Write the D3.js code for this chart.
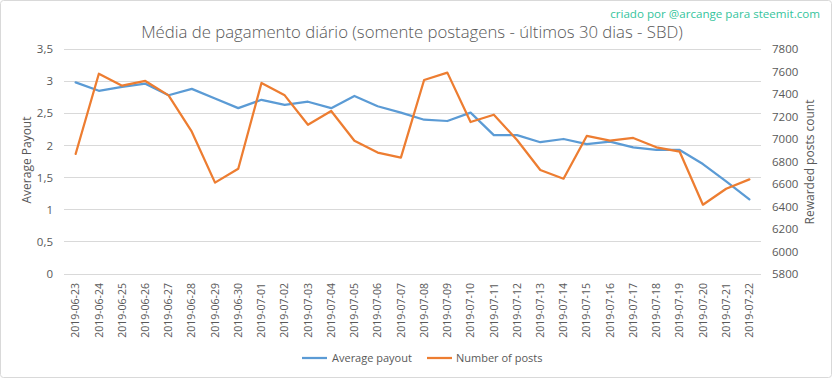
<!DOCTYPE html>
<html>
<head>
<meta charset="utf-8">
<script src="https://cdnjs.cloudflare.com/ajax/libs/d3/7.8.5/d3.min.js"></script>
<style>
  html, body { margin: 0; padding: 0; background: #fff; }
  svg { display: block; }
  text { font-family: "Open Sans", "Liberation Sans", sans-serif; }
</style>
</head>
<body>
<svg id="chart" width="833" height="379"></svg>
<script>
const dates = ["2019-06-23","2019-06-24","2019-06-25","2019-06-26","2019-06-27","2019-06-28","2019-06-29","2019-06-30",
  "2019-07-01","2019-07-02","2019-07-03","2019-07-04","2019-07-05","2019-07-06","2019-07-07","2019-07-08","2019-07-09",
  "2019-07-10","2019-07-11","2019-07-12","2019-07-13","2019-07-14","2019-07-15","2019-07-16","2019-07-17","2019-07-18",
  "2019-07-19","2019-07-20","2019-07-21","2019-07-22"];
const averagePayout = [2.98,2.85,2.91,2.96,2.78,2.88,2.73,2.58,2.71,2.63,2.68,2.58,2.77,2.61,2.51,2.40,2.38,
  2.51,2.16,2.16,2.05,2.10,2.02,2.06,1.97,1.93,1.93,1.71,1.44,1.16];
const numberOfPosts = [6867,7580,7474,7516,7388,7065,6612,6736,7498,7388,7127,7249,6985,6879,6834,7524,7590,
  7151,7216,6991,6724,6647,7027,6985,7009,6926,6887,6416,6558,6641];
const leftTicks = [0,0.5,1,1.5,2,2.5,3,3.5];
const rightTicks = [5800,6000,6200,6400,6600,6800,7000,7200,7400,7600,7800];
const titleText = "Média de pagamento diário (somente postagens - últimos 30 dias - SBD)";
const watermark = "criado por @arcange para steemit.com";
const seriesNames = ["Average payout","Number of posts"];
const colors = ["#5b9bd5","#ed7d31"];

const svg = d3.select("#chart");
const L = 64, R = 761, T = 49, B = 274;
const textColor = "#595959";
const grid = "#d9d9d9";

// border
svg.append("rect").attr("x",0.5).attr("y",0.5).attr("width",831).attr("height",377)
  .attr("rx",3).attr("fill","#fff").attr("stroke","#d9d9d9");

const x = d3.scaleBand().domain(dates).range([L, R]).padding(0);
const xc = d => x(d) + x.bandwidth()/2;
const yL = d3.scaleLinear().domain([0,3.5]).range([B,T]);
const yR = d3.scaleLinear().domain([5800,7800]).range([B,T]);

const loc = d3.formatLocale({decimal:",", thousands:".", grouping:[3], currency:["",""]});
const fmtL = loc.format("~g");

// gridlines
svg.append("g").selectAll("line").data(leftTicks).join("line")
  .attr("x1",L).attr("x2",R).attr("y1",d=>yL(d)).attr("y2",d=>yL(d))
  .attr("stroke",grid).attr("stroke-width",1).attr("shape-rendering","crispEdges");

// left axis
const gL = svg.append("g").attr("transform",`translate(${L},0)`)
  .call(d3.axisLeft(yL).tickValues(leftTicks).tickSize(0).tickPadding(11).tickFormat(fmtL));
gL.select(".domain").remove();
gL.selectAll("text").attr("fill",textColor).style("font-size","11.5px");

// right axis
const gR = svg.append("g").attr("transform",`translate(${R},0)`)
  .call(d3.axisRight(yR).tickValues(rightTicks).tickSize(0).tickPadding(11).tickFormat(d3.format("d")));
gR.select(".domain").remove();
gR.selectAll("text").attr("fill",textColor).style("font-size","11.5px");

// x axis
const gX = svg.append("g").attr("transform",`translate(0,${B})`)
  .call(d3.axisBottom(x).tickSize(0).tickPadding(0));
gX.select(".domain").remove();
gX.selectAll("text").attr("fill",textColor).style("font-size","10.5px")
  .attr("transform","rotate(-90)").attr("x",-9).attr("y",0).attr("dy","0.35em")
  .style("text-anchor","end");

// axis titles
svg.append("text").attr("transform","translate(31,160) rotate(-90)")
  .attr("text-anchor","middle").attr("fill",textColor).style("font-size","12px").text("Average Payout");
svg.append("text").attr("transform","translate(814,162) rotate(-90)")
  .attr("text-anchor","middle").attr("fill",textColor).style("font-size","12px").text("Rewarded posts count");

// lines
const lineL = d3.line().x((d,i)=>xc(dates[i])).y(d=>yL(d));
const lineR = d3.line().x((d,i)=>xc(dates[i])).y(d=>yR(d));
svg.append("path").datum(averagePayout).attr("d",lineL).attr("fill","none")
  .attr("stroke",colors[0]).attr("stroke-width",2.25).attr("stroke-linejoin","round").attr("stroke-linecap","round");
svg.append("path").datum(numberOfPosts).attr("d",lineR).attr("fill","none")
  .attr("stroke",colors[1]).attr("stroke-width",2.25).attr("stroke-linejoin","round").attr("stroke-linecap","round");

// title
const t = svg.append("text").attr("x",412).attr("y",38).attr("text-anchor","middle")
  .attr("fill",textColor).style("font-size","17px").style("font-weight","300").text(titleText);
const tw = t.node().getComputedTextLength();
t.style("font-size", (17*542/tw).toFixed(2)+"px");

// watermark
const w = svg.append("text").attr("x",820).attr("y",18).attr("text-anchor","end")
  .attr("fill","#35c49c").style("font-size","12px").text(watermark);
const ww = w.node().getComputedTextLength();
w.style("font-size", (12*210/ww).toFixed(2)+"px");

// legend
const legend = [{x1:302,x2:327,tx:332},{x1:427,x2:452,tx:456}];
legend.forEach((l,i)=>{
  svg.append("line").attr("x1",l.x1).attr("x2",l.x2).attr("y1",358).attr("y2",358)
    .attr("stroke",colors[i]).attr("stroke-width",2.25);
  svg.append("text").attr("x",l.tx).attr("y",358).attr("dy","0.35em").attr("fill",textColor)
    .style("font-size","11px").text(seriesNames[i]);
});
</script>
</body>
</html>
